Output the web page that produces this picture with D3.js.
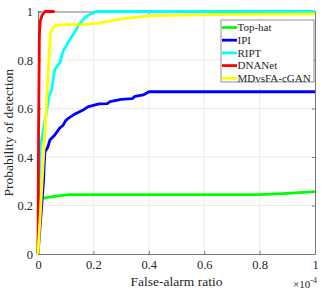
<!DOCTYPE html>
<html>
<head>
<meta charset="utf-8">
<script src="https://cdnjs.cloudflare.com/ajax/libs/d3/7.8.5/d3.min.js"></script>
<style>
  body { margin: 0; background: #fff; }
  text { font-family: "Liberation Serif", "Times New Roman", serif; fill: #262626; }
</style>
</head>
<body>
<div id="chart"></div>
<script>
// series names + colours (legend order = draw order)
var names = ["Top-hat", "IPI", "RIPT", "DNANet", "MDvsFA-cGAN"];
var colors = ["#00ff00", "#0000ff", "#00ffff", "#ff0000", "#ffff00"];

// false-alarm ratio (x1e-4) / probability of detection
var topHat = [[0,0],[0.005,0.23],[0.03,0.232],[0.06,0.238],[0.11,0.245],[0.8,0.245],[0.9,0.25],[1,0.257]];
var ipi = [[0,0],[0.02,0.3],[0.022,0.36],[0.025,0.42],[0.035,0.44],[0.043,0.47],[0.06,0.49],[0.079,0.52],
  [0.09,0.53],[0.1,0.55],[0.11,0.56],[0.13,0.575],[0.15,0.587],[0.165,0.595],[0.18,0.607],[0.22,0.619],
  [0.25,0.62],[0.26,0.628],[0.3,0.638],[0.34,0.641],[0.35,0.65],[0.38,0.656],[0.4,0.669],[1,0.669]];
var ript = [[0,0],[0.005,0.35],[0.008,0.44],[0.025,0.55],[0.04,0.65],[0.05,0.68],[0.06,0.76],[0.08,0.79],
  [0.09,0.835],[0.11,0.875],[0.13,0.91],[0.15,0.95],[0.17,0.975],[0.19,0.99],[0.21,1],[1,1]];
var dnanet = [[0,0],[0.002,0.5],[0.005,0.9],[0.008,0.96],[0.015,0.985],[0.025,1],[0.06,1]];
var mdvsfa = [[0,0],[0.02,0.4],[0.04,0.82],[0.045,0.91],[0.055,0.935],[0.07,0.945],[0.17,0.947],
  [0.22,0.952],[0.3,0.97],[0.4,0.982],[0.6,0.987],[1,0.99]];
var series = [topHat, ipi, ript, dnanet, mdvsfa];

var xTicks = [0, 0.2, 0.4, 0.6, 0.8, 1];
var yTicks = [0, 0.2, 0.4, 0.6, 0.8, 1];

var width = 327, height = 292;
var margin = {left: 38, right: 12, top: 11.5, bottom: 38};

var svg = d3.select("#chart").append("svg")
  .attr("width", width)
  .attr("height", height);

var x = d3.scaleLinear().domain([0, 1]).range([margin.left, width - margin.right]);
var y = d3.scaleLinear().domain([0, 1]).range([height - margin.bottom, margin.top]);

// grid
svg.append("g").selectAll("line").data(xTicks.slice(1, -1)).enter().append("line")
  .attr("x1", function(d) { return x(d); }).attr("x2", function(d) { return x(d); })
  .attr("y1", y(0)).attr("y2", y(1))
  .attr("stroke", "#e6e6e6").attr("stroke-width", 0.8);
svg.append("g").selectAll("line").data(yTicks.slice(1, -1)).enter().append("line")
  .attr("y1", function(d) { return y(d); }).attr("y2", function(d) { return y(d); })
  .attr("x1", x(0)).attr("x2", x(1))
  .attr("stroke", "#e6e6e6").attr("stroke-width", 0.8);

// axes (matlab style: ticks inside)
var fmt = function(d) { return d === 0 || d === 1 ? d : d.toFixed(1); };
svg.append("g")
  .attr("transform", "translate(0," + y(0) + ")")
  .call(d3.axisBottom(x).tickValues(xTicks).tickSize(-3).tickPadding(6).tickFormat(fmt));
svg.append("g")
  .attr("transform", "translate(" + x(0) + ",0)")
  .call(d3.axisLeft(y).tickValues(yTicks).tickSize(-3).tickPadding(5).tickFormat(fmt));
svg.append("g")
  .attr("transform", "translate(0," + y(1) + ")")
  .call(d3.axisTop(x).tickValues(xTicks).tickSize(-3).tickFormat(""));
svg.append("g")
  .attr("transform", "translate(" + x(1) + ",0)")
  .call(d3.axisRight(y).tickValues(yTicks).tickSize(-3).tickFormat(""));

svg.selectAll(".domain").attr("stroke", "#777");
svg.selectAll(".tick line").attr("stroke", "#777");
svg.selectAll(".tick text")
  .style("font-family", "Liberation Serif")
  .style("font-size", "12.5px")
  .attr("fill", "#262626");

// curves
var line = d3.line()
  .x(function(d) { return x(d[0]); })
  .y(function(d) { return y(d[1]); });

svg.append("g").selectAll("path").data(series).enter().append("path")
  .attr("d", line)
  .attr("fill", "none")
  .attr("stroke", function(d, i) { return colors[i]; })
  .attr("stroke-width", 2.8)
  .attr("stroke-linejoin", "round");

// axis labels
svg.append("text")
  .attr("x", (x(0) + x(1)) / 2)
  .attr("y", 286)
  .attr("text-anchor", "middle")
  .style("font-size", "13.5px")
  .text("False-alarm ratio");

svg.append("text")
  .attr("transform", "translate(13," + ((y(0) + y(1)) / 2) + ") rotate(-90)")
  .attr("text-anchor", "middle")
  .style("font-size", "13.5px")
  .text("Probability of detection");

var mult = svg.append("text")
  .attr("x", x(1) + 2)
  .attr("y", 288)
  .attr("text-anchor", "end")
  .style("font-size", "11px");
mult.append("tspan").text("\u00d710");
mult.append("tspan").attr("dy", -5).style("font-size", "8px").text("-4");

// legend
var lg = svg.append("g");
var lgX = 221, lgY = 20, lgW = 93, rowH = 12.7;
lg.append("rect")
  .attr("x", lgX).attr("y", lgY)
  .attr("width", lgW).attr("height", 62)
  .attr("fill", "#fff").attr("stroke", "#777").attr("stroke-width", 0.8);
var rows = lg.selectAll("g.row").data(names).enter().append("g")
  .attr("transform", function(d, i) { return "translate(" + lgX + "," + (lgY + 7.5 + i * rowH) + ")"; });
rows.append("line")
  .attr("x1", 1).attr("x2", 16)
  .attr("stroke", function(d, i) { return colors[i]; })
  .attr("stroke-width", 2.8);
rows.append("text")
  .attr("x", 16.5).attr("dy", "0.35em")
  .style("font-size", "11px")
  .text(function(d) { return d; });
</script>
</body>
</html>
